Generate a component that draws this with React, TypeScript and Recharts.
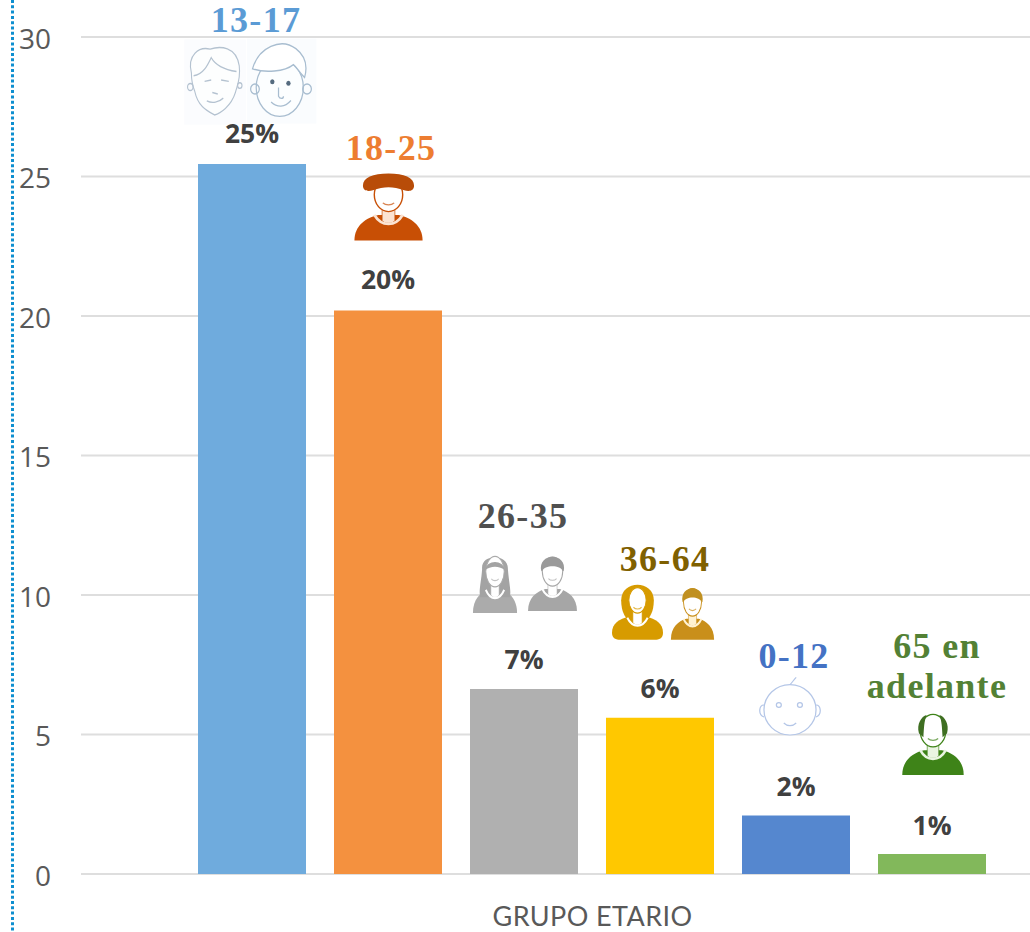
import React from "react";
import { BarChart, Bar, XAxis, YAxis, CartesianGrid, Cell, LabelList, Label } from "recharts";

const groups = ["13-17", "18-25", "26-35", "36-64", "0-12", "65 en adelante"];
const shares = [25.45, 20.2, 6.63, 5.6, 2.1, 0.72];
const percentLabels = ["25%", "20%", "7%", "6%", "2%", "1%"];
const yTicks = [0, 5, 10, 15, 20, 25, 30];
const xTitle = "GRUPO ETARIO";
const barColors = ["#6FABDD", "#F4913F", "#B0B0B0", "#FFC800", "#5587CF", "#82B85B"];
const groupColors = ["#5B9BD5", "#ED7D31", "#505050", "#7F6000", "#4472C4", "#538135"];

const tableData = groups.map((g, i) => ({ group: g, share: shares[i] }));

// Annotation layout, relative to each bar's top centre
const pctOffset = [-31, -31, -30, -30, -29, -29];
const groupLine1 = [
  { dx: 4, dy: -132 },
  { dx: 3, dy: -150 },
  { dx: -1, dy: -161 },
  { dx: 5, dy: -147 },
  { dx: -2, dy: -147 },
  { dx: 5, dy: -196 },
];
const SERIF = "'Liberation Serif', serif";
const SANS = "'Open Sans', sans-serif";
const TITLE_SANS = "Lato, sans-serif";

type Box = { x: number; y: number; w: number; h: number };
const place = (b: Box, child: React.ReactNode) => (
  <g transform={`translate(${b.x},${b.y}) scale(${b.w / 100},${b.h / 100})`}>{child}</g>
);

const GirlFace = () => (
  <g fill="none" stroke="#B4C2D0" strokeWidth={2}>
    <rect x={-5} y={-8} width={112} height={122} fill="#FBFCFE" stroke="none" />
    <path d="M8 40C0 14 22 2 42 6C60 1 90 2 95 30C98 50 90 60 88 68C80 88 60 98 50 100C36 94 20 88 14 66C10 58 8 50 8 40Z" fill="#FDFEFE" />
    <path d="M12 44C30 42 38 28 44 18C54 32 74 36 90 38" />
    <path d="M32 52L44 50M62 50L76 52M46 68L56 70M36 80C46 84 58 82 66 76" />
    <circle cx={6} cy={60} r={5} />
    <circle cx={96} cy={58} r={4} />
  </g>
);
const BoyFace = () => (
  <g fill="none" stroke="#A8BDD0" strokeWidth={2}>
    <rect x={-5} y={-6} width={112} height={118} fill="#FAFCFE" stroke="none" />
    <ellipse cx={48} cy={62} rx={38} ry={40} fill="#FCFEFF" />
    <path d="M4 36C14 6 50 -8 74 8C92 20 92 36 88 48C78 40 76 34 70 30C56 40 24 42 4 36Z" fill="#FFFFFF" />
    <circle cx={36} cy={54} r={3.5} fill="#556B7F" stroke="none" />
    <circle cx={62} cy={56} r={3.5} fill="#556B7F" stroke="none" />
    <path d="M46 62V74C48 78 54 78 54 74M34 82C44 90 56 90 66 80" />
    <circle cx={8} cy={64} r={7} />
    <circle cx={92} cy={64} r={7} />
  </g>
);
const Bust = ({ color, hair, accent = "#FFFFFF", long = false, hood = false, bald = false, hat = false }: {
  color: string; hair: string; accent?: string; long?: boolean; hood?: boolean; bald?: boolean; hat?: boolean;
}) => (
  <g>
    {hood ? (
      <path d="M0 88C0 72 14 64 34 60L66 60C86 64 100 72 100 88C100 98 92 100 84 100H16C8 100 0 98 0 88Z" fill={color} />
    ) : (
      <path d="M2 100C2 78 18 66 36 62L64 62C82 66 98 78 98 100Z" fill={color} />
    )}
    {long && <path d="M22 28C18 2 80 2 78 28C80 50 86 64 82 74H18C14 64 20 50 22 28Z" fill={hair} />}
    {hood && <path d="M18 32C18 -4 82 -4 82 32C82 52 74 62 68 66H32C26 62 18 52 18 32Z" fill={hair} />}
    <path d="M41 50H59V70C56 76 44 76 41 70Z" fill={accent} stroke={color} strokeWidth={1} />
    <path d="M30 62C40 80 60 80 70 62" fill="none" stroke={accent} strokeWidth={4} />
    <ellipse cx={50} cy={32} rx={hood ? 17 : 20} ry={hood ? 22 : 25} fill="#FFFFFF" stroke={color} strokeWidth={2} />
    {hat && <path d="M14 18C14 6 28 0 50 0C72 0 86 6 86 18C86 27 78 27 72 25C56 19 44 19 28 25C22 27 14 27 14 18Z" fill={hair} />}
    {!long && !hood && !hat && !bald && <path d="M28 32C20 -2 80 -2 72 32C64 20 36 20 28 32Z" fill={hair} />}
    {long && <path d="M28 30C32 12 68 12 72 30C60 22 40 22 28 30Z" fill={hair} />}
    {bald && <path d="M28 36C24 22 32 10 40 8C36 18 36 28 35 42ZM72 36C76 22 68 10 60 8C64 18 64 28 65 42Z" fill={hair} />}
    <path d="M42 44C46 48 54 48 58 44" fill="none" stroke={color} strokeWidth={2} opacity={0.7} />
  </g>
);
const Baby = () => (
  <g fill="none" stroke="#B4C6E7" strokeWidth={2}>
    <circle cx={50} cy={54} r={42} fill="#FFFFFF" />
    <path d="M8 46C0 46 -2 62 8 66M92 46C100 46 102 62 92 66" />
    <path d="M50 12C54 8 56 4 60 0" />
    <circle cx={32} cy={46} r={4} />
    <circle cx={66} cy={46} r={4} />
    <path d="M40 76C46 82 54 82 60 76" />
  </g>
);

const iconsFor = (i: number, cx: number, top: number) => {
  if (i === 0) {
    return (
      <>
        {place({ x: cx - 65, y: top - 119, w: 55, h: 70 }, <GirlFace />)}
        {place({ x: cx - 2, y: top - 121, w: 62, h: 72 }, <BoyFace />)}
      </>
    );
  }
  if (i === 1) {
    return place({ x: cx - 35, y: top - 137, w: 71, h: 67 }, <Bust color="#C84F05" hair="#B84C08" accent="#FBE3D2" hat />);
  }
  if (i === 2) {
    return (
      <>
        {place({ x: cx - 52, y: top - 137, w: 46, h: 61 }, <Bust color="#ABABAB" hair="#A3A3A3" long />)}
        {place({ x: cx + 3, y: top - 136, w: 51, h: 58 }, <Bust color="#A6A6A6" hair="#9A9A9A" />)}
      </>
    );
  }
  if (i === 3) {
    return (
      <>
        {place({ x: cx - 48, y: top - 136, w: 51, h: 58 }, <Bust color="#D79B00" hair="#D79B00" hood />)}
        {place({ x: cx + 10, y: top - 133, w: 45, h: 55 }, <Bust color="#C98F1A" hair="#C09020" accent="#FFF2D2" />)}
      </>
    );
  }
  if (i === 4) {
    return place({ x: cx - 37, y: top - 138, w: 62, h: 60 }, <Baby />);
  }
  return place({ x: cx - 31, y: top - 144, w: 64, h: 65 }, <Bust color="#3E8318" hair="#3F6F22" accent="#EAF4E2" bald />);
};

const Annotation = (props: any) => {
  const { x, y, width, index } = props;
  const cx = x + width / 2;
  const top = y;
  const pos = groupLine1[index];
  const words = index === 5 ? ["65 en", "adelante"] : [groups[index]];
  return (
    <g>
      {iconsFor(index, cx, top)}
      <text x={cx} y={top + pctOffset[index] + 10} textAnchor="middle" fontFamily={SANS} fontWeight={700} fontSize={26.5} fill="#404040">
        {percentLabels[index]}
      </text>
      <text x={cx + pos.dx} y={top + pos.dy} textAnchor="middle" fontFamily={SERIF} fontWeight={700} fontSize={36} letterSpacing={1.3} fill={groupColors[index]}>
        {words.map((w, k) => (
          <tspan key={w} x={cx + pos.dx} dy={k === 0 ? 0 : 40}>{w}</tspan>
        ))}
      </text>
    </g>
  );
};

export default function App() {
  return (
    <div style={{ position: "absolute", left: 0, top: 0, width: 1030, height: 932, background: "#fff" }}>
      <svg width={1030} height={932} style={{ position: "absolute", left: 0, top: 0 }}>
        <line x1={12.5} y1={0} x2={12.5} y2={932} stroke="#0E8FD0" strokeWidth={3} strokeDasharray="3 2.3" />
      </svg>
      <BarChart
        width={1030}
        height={932}
        data={tableData}
        margin={{ top: 37, right: 0, bottom: 0, left: 0 }}
        barCategoryGap={14}
        style={{ position: "absolute", left: 0, top: 0 }}
      >
        <CartesianGrid vertical={false} stroke="#DEDEDE" strokeWidth={2} />
        <XAxis
          dataKey="group"
          type="category"
          padding={{ left: 103, right: 30 }}
          axisLine={false}
          tickLine={false}
          tick={false}
          height={58}
        >
          <Label value={xTitle} position="insideBottom" dx={37} offset={6} fontFamily={TITLE_SANS} fontSize={27} letterSpacing={0.4} fill="#595959" />
        </XAxis>
        <YAxis
          domain={[0, 30]}
          ticks={yTicks}
          width={81}
          axisLine={false}
          tickLine={false}
          tickSize={0}
          tickMargin={30}
          tick={{ fontFamily: SANS, fontSize: 28, fill: "#595959", dy: 2 }}
        />
        <Bar dataKey="share" isAnimationActive={false}>
          {barColors.map((c) => (
            <Cell key={c} fill={c} />
          ))}
          <LabelList dataKey="share" content={Annotation} />
        </Bar>
      </BarChart>
    </div>
  );
}
